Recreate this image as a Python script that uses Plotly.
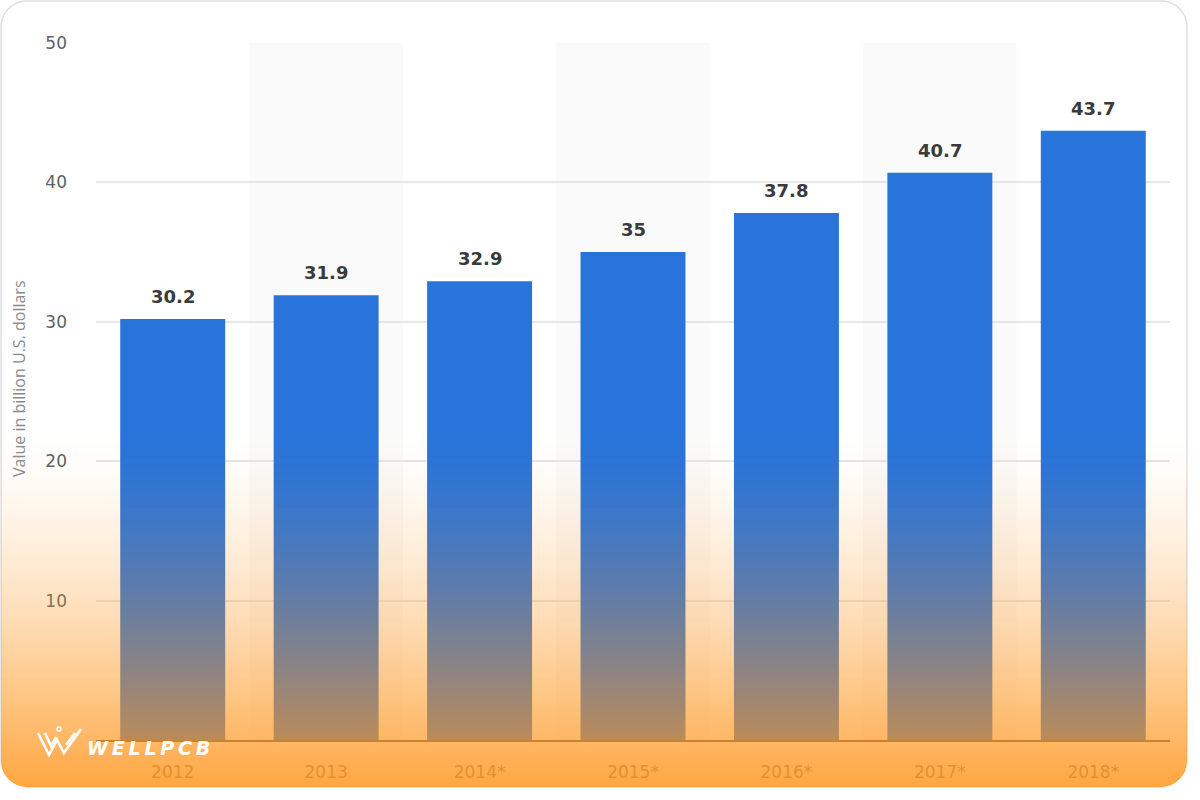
import math
import plotly.graph_objects as go

# ---- data ----
categories = ["2012", "2013", "2014*", "2015*", "2016*", "2017*", "2018*"]
values = [30.2, 31.9, 32.9, 35, 37.8, 40.7, 43.7]
y_ticks = [0, 10, 20, 30, 40, 50]
y_title = "Value in billion U.S. dollars"
watermark = "WELLPCB"

# ---- geometry helpers (pixels -> paper) ----
W, H = 1200, 800
L, R, T, B = 96, 30, 43, 60
PW, PH = W - L - R, H - T - B


def px(x):
    return (x - L) / PW


def py(y):
    return (H - B - y) / PH


fig = go.Figure(
    go.Bar(
        x=categories,
        y=values,
        marker=dict(color="#2874DB", line=dict(width=0)),
        hoverinfo="skip",
    )
)

shapes = []

# card
CARD_R = 26
CX0, CY0, CX1, CY1 = 1, 1, 1187, 787


def poly(pts, close=True):
    d = "M " + " L ".join(f"{px(x):.5f},{py(y):.5f}" for x, y in pts)
    return d + (" Z" if close else "")


def rounded_rect_pts(x0, y0, x1, y1, r, n=10):
    pts = []
    corners = [
        (x1 - r, y0 + r, -90, 0),
        (x1 - r, y1 - r, 0, 90),
        (x0 + r, y1 - r, 90, 180),
        (x0 + r, y0 + r, 180, 270),
    ]
    for cx, cy, a0, a1 in corners:
        for k in range(n + 1):
            a = math.radians(a0 + (a1 - a0) * k / n)
            pts.append((cx + r * math.cos(a), cy + r * math.sin(a)))
    return pts


shapes.append(dict(type="path", xref="paper", yref="paper",
                   path=poly(rounded_rect_pts(CX0, CY0, CX1, CY1, CARD_R)),
                   fillcolor="white", line=dict(color="#e0e0e0", width=1.5),
                   layer="below"))

# alternating column bands
for i, c in enumerate(categories):
    if i % 2 == 1:
        shapes.append(dict(type="rect", xref="x", yref="y",
                           x0=i - 0.5, x1=i + 0.5, y0=0, y1=y_ticks[-1],
                           fillcolor="#fafafa", line=dict(width=0), layer="below"))

# orange gradient overlay
G0, G1 = 430, CY1
step = 3
y = G0
while y < G1:
    t = (y + step / 2 - G0) / (G1 - G0)
    a = 0.85 * t ** 1.5
    shapes.append(dict(type="rect", xref="paper", yref="paper",
                       x0=px(CX0), x1=px(CX1), y0=py(min(y + step, G1)), y1=py(y),
                       fillcolor=f"rgba(255,150,30,{a:.3f})", line=dict(width=0),
                       layer="above"))
    y += step


# white masks for rounded bottom corners
def corner_mask(cx, cy, a0, a1, cornerx, cornery, n=12):
    pts = []
    for k in range(n + 1):
        a = math.radians(a0 + (a1 - a0) * k / n)
        pts.append((cx + CARD_R * math.cos(a), cy + CARD_R * math.sin(a)))
    pts.append((cornerx, cornery))
    return poly(pts)


shapes.append(dict(type="path", xref="paper", yref="paper",
                   path=corner_mask(CX0 + CARD_R, CY1 - CARD_R, 90, 180, CX0 - 2, CY1 + 2),
                   fillcolor="white", line=dict(width=0), layer="above"))
shapes.append(dict(type="path", xref="paper", yref="paper",
                   path=corner_mask(CX1 - CARD_R, CY1 - CARD_R, 0, 90, CX1 + 2, CY1 + 2),
                   fillcolor="white", line=dict(width=0), layer="above"))

# watermark logo (stylised double-lined W with a dot)
logo1 = [(38, 733), (49, 755), (57, 740), (64, 753), (81, 729)]
logo2 = [(45, 733), (51, 746), (56, 737)]
logo3 = [(66, 745), (75, 733)]
for pts in (logo1, logo2, logo3):
    shapes.append(dict(type="path", xref="paper", yref="paper",
                       path=poly(pts, close=False),
                       line=dict(color="white", width=2.5), layer="above"))
shapes.append(dict(type="circle", xref="paper", yref="paper",
                   x0=px(57), x1=px(61), y0=py(731), y1=py(727),
                   line=dict(color="white", width=1.5), layer="above"))

annotations = []
for i, v in enumerate(values):
    annotations.append(dict(x=i, y=v, text=f"{v:g}", showarrow=False,
                            yanchor="bottom", yshift=10,
                            font=dict(family="DejaVu Sans", size=18,
                                      color="#3a3a3a", weight="bold")))

annotations.append(dict(xref="paper", yref="paper", x=px(85), y=py(748),
                        xanchor="left", yanchor="middle",
                        text="<b><i>" + "\u2009".join(watermark) + "</i></b>",
                        showarrow=False,
                        font=dict(family="DejaVu Sans", size=19, color="white")))

annotations.append(dict(xref="paper", yref="paper", x=px(19), y=py(379),
                        xanchor="center", yanchor="middle", textangle=-90,
                        text=y_title, showarrow=False,
                        font=dict(family="Open Sans, Arial", size=16, color="#8a8a8a")))

fig.update_layout(
    width=W, height=H,
    margin=dict(l=L, r=R, t=T, b=B),
    paper_bgcolor="white",
    plot_bgcolor="rgba(0,0,0,0)",
    bargap=0.316,
    showlegend=False,
    shapes=shapes,
    annotations=annotations,
    xaxis=dict(
        type="category", range=[-0.5, len(categories) - 0.5],
        showgrid=False, showline=True, linecolor="#555555", linewidth=2,
        ticks="", tickfont=dict(family="DejaVu Sans", size=17, color="#777777"),
        ticklabelstandoff=16,
    ),
    yaxis=dict(
        range=[0, 50], tickvals=y_ticks, ticktext=[str(v) if v else "" for v in y_ticks],
        showgrid=True, gridcolor="#e6e6e6", gridwidth=1.5, zeroline=False,
        showline=False, ticks="", ticklabelstandoff=28,
        tickfont=dict(family="DejaVu Sans", size=17, color="#606060"),
    ),
)

fig.write_html("out.html")
